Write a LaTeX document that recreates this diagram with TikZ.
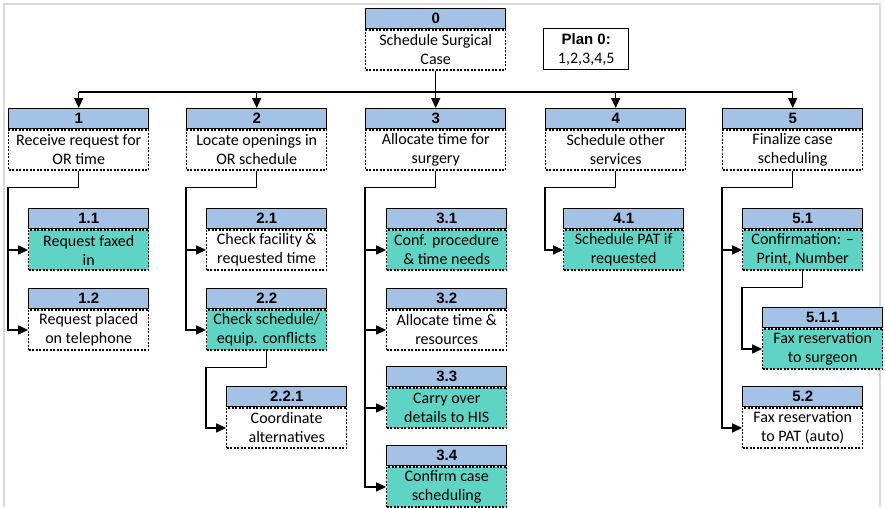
\documentclass[tikz,border=0pt]{standalone}
\usepackage{fontspec}
\setmainfont{Carlito}
\newfontfamily\headfont{Liberation Sans}
\usetikzlibrary{arrows.meta}
\definecolor{hdrblue}{RGB}{164,194,230}
\definecolor{subteal}{RGB}{95,211,196}
\definecolor{framegrey}{RGB}{217,217,217}
\tikzset{
  hdr/.style={draw, line width=1.4pt, fill=hdrblue, minimum height=20pt, inner sep=0pt,
    font=\headfont\bfseries\fontsize{15}{15}\selectfont, anchor=north west},
  body/.style={draw, line width=1.1pt, dash pattern=on 2pt off 1.5pt, minimum height=40pt,
    inner sep=0pt, align=center, font=\fontsize{16}{19}\selectfont, anchor=north},
  link/.style={line width=1.4pt, -{Triangle[length=10pt,width=9pt]}},
}
\begin{document}
\begin{tikzpicture}[x=1pt, y=-1pt]
  \useasboundingbox (0,0) rectangle (885,507);
  % grey frame
  \draw[framegrey, line width=1.5pt] (4,507) -- (4,4) -- (880,4) -- (880,507);
  % tasks: id / left / top / width / number / fill / text
  \foreach \id/\x/\y/\w/\lbl/\fc/\txt in {
      0/365/8/140/0/white/{Schedule Surgical\\Case},
      1/8/108/140/1/white/{Receive request for\\OR time},
      2/186/108/140/2/white/{Locate openings in\\OR schedule},
      3/365/108/140/3/white/{Allocate time for\\surgery},
      4/545/108/140/4/white/{Schedule other\\services},
      5/722/108/140/5/white/{Finalize case\\scheduling},
      11/28/208/120/1.1/subteal/{Request faxed\\in},
      12/28/288/120/1.2/white/{Request placed\\on telephone},
      21/206/208/120/2.1/white/{Check facility \&\\requested time},
      22/206/288/120/2.2/subteal/{Check schedule/\\equip. conflicts},
      221/226/386/120/2.2.1/white/{Coordinate\\alternatives},
      31/386/208/120/3.1/subteal/{Conf. procedure\\\& time needs},
      32/386/288/120/3.2/white/{Allocate time \&\\resources},
      33/386/366/120/3.3/subteal/{Carry over\\details to HIS},
      34/386/445/120/3.4/subteal/{Confirm case\\scheduling},
      41/563/208/120/4.1/subteal/{Schedule PAT if\\requested},
      51/742/208/120/5.1/subteal/{Confirmation: --\\Print, Number},
      511/762/307/120/5.1.1/subteal/{Fax reservation\\to surgeon},
      52/742/386/120/5.2/white/{Fax reservation\\to PAT (auto)}}
  {
    \node[hdr, minimum width=\w pt] (h\id) at (\x,\y) {\lbl};
    \node[body, fill=\fc, minimum width=\w pt] (t\id) at (h\id.south) {\txt};
  }
  % plan
  \node[draw, line width=1.4pt, minimum width=85pt, minimum height=41pt, inner sep=0pt,
    anchor=north west, align=center, font=\fontsize{16}{19}\selectfont] (plan) at (543,28)
    {{\headfont\bfseries\fontsize{15}{15}\selectfont Plan 0:}\\1,2,3,4,5};
  % top level
  \coordinate (bus) at (0,92);
  \draw[link] (t0.south) -- (h3.north);
  \draw[line width=1.4pt] (h1.north |- bus) -- (h5.north |- bus);
  \foreach \i in {1,2,4,5}
    \draw[link] (h\i.north |- bus) -- (h\i.north);
  % subtasks
  \foreach \p/\c in {1/11, 1/12, 2/21, 2/22, 22/221, 3/31, 3/32, 3/33, 3/34,
                     4/41, 5/51, 51/511, 5/52}
    \draw[link] (t\p.south) -- ++(0,17) -| (h\p.west |- t\c.west) -- (t\c.west);
\end{tikzpicture}
\end{document}
